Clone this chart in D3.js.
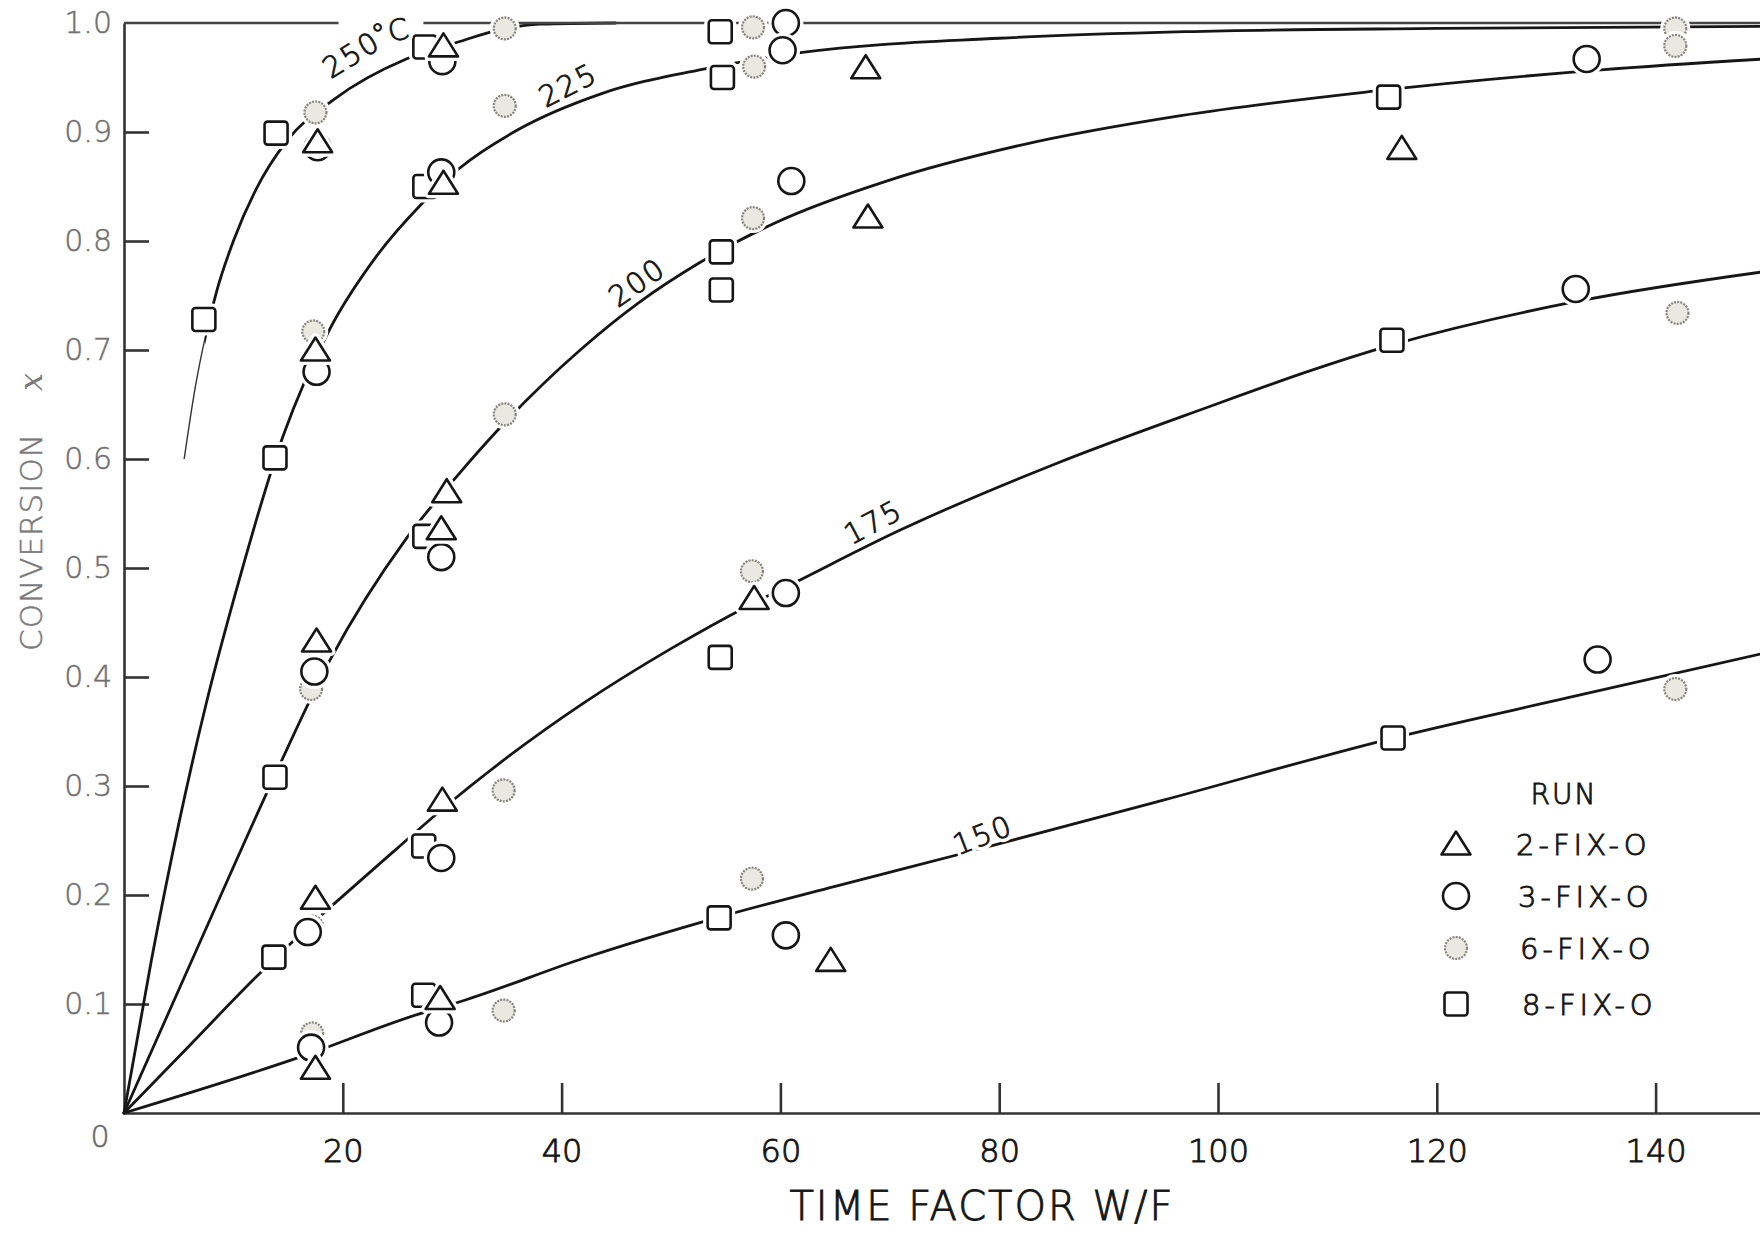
<!DOCTYPE html>
<html>
<head>
<meta charset="utf-8">
<script src="https://cdn.jsdelivr.net/npm/d3@7"></script>
<style>
  body { margin: 0; background: #fff; }
  svg { display: block; }
  .lbl { font-family: "DejaVu Sans", sans-serif; font-weight: 200; }
</style>
</head>
<body>
<script>
// values
const xTicks = [20, 40, 60, 80, 100, 120, 140];
const yTicks = [0.1, 0.2, 0.3, 0.4, 0.5, 0.6, 0.7, 0.8, 0.9, 1.0];
const runNames = ['2-FIX-O', '3-FIX-O', '6-FIX-O', '8-FIX-O'];
const curveNames = ['250', '225', '200', '175', '150'];

// 2-FIX-O triangles
const run2 = [[29.2,0.979],[17.7,0.891],[29.2,0.853],[17.5,0.70],[29.5,0.570],[29.0,0.536],
  [17.6,0.433],[57.6,0.472],[29.1,0.287],[17.5,0.197],[28.9,0.105],[17.5,0.041],
  [67.8,0.959],[116.8,0.885],[68.0,0.822],[64.6,0.140]];
// 3-FIX-O open circles
const run3 = [[29.1,0.965],[17.7,0.886],[60.5,1.0],[60.2,0.975],[29.0,0.863],[17.6,0.680],
  [61.0,0.855],[29.0,0.510],[17.4,0.405],[60.5,0.477],[29.0,0.234],[16.8,0.166],
  [28.8,0.083],[17.1,0.060],[133.7,0.967],[132.7,0.756],[134.7,0.416],[60.5,0.163]];
// 6-FIX-O grey circles
const run6 = [[34.8,0.995],[17.5,0.918],[34.8,0.924],[57.5,0.996],[57.6,0.960],[17.3,0.717],
  [34.8,0.641],[57.5,0.821],[17.1,0.389],[34.7,0.296],[57.4,0.497],[17.2,0.171],
  [57.4,0.215],[17.2,0.073],[34.7,0.094],[141.8,0.995],[141.8,0.979],[142.0,0.734],[141.8,0.389]];
// 8-FIX-O squares
const run8 = [[7.3,0.728],[13.9,0.899],[27.5,0.978],[27.5,0.850],[54.5,0.992],[54.7,0.950],
  [13.8,0.601],[54.6,0.790],[54.6,0.755],[27.5,0.529],[13.8,0.308],[54.5,0.418],
  [27.4,0.245],[13.7,0.143],[27.4,0.108],[54.4,0.179],[115.6,0.932],[115.9,0.709],[116.0,0.344]];

// fitted curves
const curve250 = [[5.5,0.60],[6.5,0.665],[7.5,0.715],[8.5,0.755],[10,0.80],[12,0.846],[14.9,0.892],
  [19.2,0.93],[25.8,0.967],[30.7,0.983],[34,0.993],[38,0.999],[45,1.0]];
const curve225 = [[0,0],[2.5,0.14],[5,0.265],[7.5,0.375],[10,0.47],[14.5,0.62],[18.8,0.719],[23,0.785],
  [27.2,0.834],[30.7,0.867],[36,0.902],[43.6,0.935],[53.1,0.958],[62,0.973],[80,0.986],[97,0.992],
  [120,0.995],[150,0.997]];
const curve200 = [[0,0],[7,0.158],[13.8,0.31],[18.8,0.415],[25.8,0.527],[30.5,0.585],[34.3,0.628],
  [41.7,0.70],[47,0.743],[52.6,0.78],[59.6,0.817],[69.7,0.855],[82,0.888],[96.6,0.915],[113.8,0.937],
  [135,0.957],[150,0.967]];
const curve175 = [[0,0],[6,0.062],[12,0.124],[17,0.172],[20,0.199],[25,0.243],[29,0.278],[35,0.326],
  [42,0.376],[50,0.426],[57,0.465],[61,0.485],[71,0.535],[85,0.595],[97,0.64],[116,0.705],
  [133,0.745],[150,0.772]];
const curve150 = [[0,0],[16,0.051],[27,0.091],[31,0.103],[42,0.142],[54.5,0.18],[65,0.208],[77,0.239],
  [95,0.287],[116,0.344],[132,0.381],[150,0.422]];

const W = 1760, H = 1236;
const svg = d3.select(document.body).append('svg').attr('width', W).attr('height', H);

const x = d3.scaleLinear().domain([0, 150]).range([124, 124 + 150 * 10.94]);
const y = d3.scaleLinear().domain([0, 1]).range([1113, 23]);

const ink = '#161616';

drawAxes();
drawCurves();
drawMarkers();
const gap = drawCurveLabels();
drawTopLine(gap);
drawLegend();

function inkText(sel, size, col){
  return sel.attr('class', 'lbl').attr('font-size', size).attr('fill', col)
    .attr('stroke', col).attr('stroke-width', 0.9);
}

function drawAxes(){
  const yAxis = d3.axisLeft(y).tickValues(yTicks).tickSizeInner(-25).tickSizeOuter(0)
    .tickPadding(12).tickFormat(d3.format('.1f'));
  const gy = svg.append('g').attr('transform', `translate(${x(0)},0)`).call(yAxis);
  gy.selectAll('path, line').attr('stroke', '#333').attr('stroke-width', 2.6);
  gy.select('.tick:last-of-type line').remove();
  inkText(gy.selectAll('text'), 30, '#707070').attr('stroke-width', 0.5);

  const xAxis = d3.axisBottom(x).tickValues(xTicks).tickSizeInner(-30).tickSizeOuter(0).tickPadding(26);
  const gx = svg.append('g').attr('transform', `translate(0,${y(0)})`).call(xAxis);
  gx.selectAll('path, line').attr('stroke', '#333').attr('stroke-width', 2.6);
  inkText(gx.selectAll('text'), 32, ink);

  inkText(svg.append('text'), 30, '#666').attr('stroke-width', 0.5)
    .attr('x', x(0) - 24).attr('y', y(0) + 34).attr('text-anchor', 'middle').text('0');

  inkText(svg.append('text'), 40, ink).attr('x', 982).attr('y', 1220)
    .attr('text-anchor', 'middle').attr('letter-spacing', 2).text('TIME FACTOR W/F');

  inkText(svg.append('text'), 31, '#7a7a7a').attr('stroke-width', 0.5)
    .attr('transform', 'translate(42,542) rotate(-90)')
    .attr('text-anchor', 'middle').attr('letter-spacing', 1).text('CONVERSION');
  svg.append('text').attr('transform', 'translate(42,382) rotate(-90)')
    .attr('text-anchor', 'middle').attr('font-family', '"DejaVu Serif", serif').attr('font-style', 'italic')
    .attr('font-size', 32).attr('fill', '#7a7a7a').text('x');
}

function drawTopLine(gap){
  // frame line at 1.0, broken where the 250 °C label sits
  const segs = [[x(0), gap[0]], [gap[1], x(150)]];
  segs.forEach(s => {
    svg.insert('line', 'g.marks').attr('x1', s[0]).attr('x2', s[1]).attr('y1', y(1)).attr('y2', y(1))
      .attr('stroke', '#444').attr('stroke-width', 2.6);
  });
}

function drawCurves(){
  const line = d3.line().x(d => x(d[0])).y(d => y(d[1])).curve(d3.curveMonotoneX);
  svg.append('clipPath').attr('id', 'after-first').append('rect')
    .attr('x', x(7.4)).attr('y', 0).attr('width', W).attr('height', H);
  // the 250 curve is drawn thin before its first point
  svg.append('path').attr('d', line(curve250)).attr('fill', 'none')
    .attr('stroke', '#333').attr('stroke-width', 1.4);
  svg.append('path').attr('d', line(curve250)).attr('fill', 'none').attr('clip-path', 'url(#after-first)')
    .attr('stroke', ink).attr('stroke-width', 2.8);
  [curve225, curve200, curve175, curve150].forEach(c => {
    svg.append('path').attr('d', line(c)).attr('fill', 'none')
      .attr('stroke', ink).attr('stroke-width', 2.8).attr('stroke-linecap', 'round');
  });
}

function shape(g, kind, halo){
  const sw = halo ? 9 : 2.6;
  const col = halo ? '#fff' : ink;
  if (kind === 'tri') {
    g.append('path').attr('d', 'M0,-12.5 L14.5,10.5 L-14.5,10.5 Z')
      .attr('fill', '#fff').attr('stroke', col).attr('stroke-width', sw).attr('stroke-linejoin', 'round');
  } else if (kind === 'circ') {
    g.append('circle').attr('r', 13).attr('fill', '#fff').attr('stroke', col).attr('stroke-width', sw);
  } else if (kind === 'grey') {
    g.append('circle').attr('r', 11).attr('fill', halo ? '#fff' : '#e9e9e2')
      .attr('stroke', halo ? '#fff' : '#85857c').attr('stroke-width', halo ? 8 : 2.2)
      .attr('stroke-dasharray', halo ? null : '2 1.2');
  } else {
    g.append('rect').attr('x', -11.5).attr('y', -11.5).attr('width', 23).attr('height', 23).attr('rx', 3)
      .attr('fill', '#fff').attr('stroke', col).attr('stroke-width', sw);
  }
}

function drawMarkers(){
  const sets = [[run8, 'sq'], [run6, 'grey'], [run3, 'circ'], [run2, 'tri']];
  sets.forEach(([data, kind]) => {
    svg.append('g').attr('class', 'marks').selectAll('g').data(data).join('g')
      .attr('transform', d => `translate(${x(d[0])},${y(d[1])})`)
      .each(function(){
        const g = d3.select(this);
        shape(g, kind, true);
        shape(g, kind, false);
      });
  });
}

function drawCurveLabels(){
  // label anchors in data units, with their tilt
  const place = [
    {t: curveNames[0], at: [20.8, 0.971], rot: -32},
    {t: '°C', at: [24.4, 0.992], rot: -12},
    {t: curveNames[1], at: [40.6, 0.943], rot: -27},
    {t: curveNames[2], at: [46.9, 0.762], rot: -35},
    {t: curveNames[3], at: [68.5, 0.542], rot: -28},
    {t: curveNames[4], at: [78.5, 0.255], rot: -21}
  ];
  const nodes = [];
  place.forEach(p => {
    const tr = `translate(${x(p.at[0])},${y(p.at[1])}) rotate(${p.rot})`;
    svg.append('text').attr('class', 'lbl').attr('transform', tr)
      .attr('text-anchor', 'middle').attr('dominant-baseline', 'central')
      .attr('font-size', 29).attr('letter-spacing', 2).attr('fill', '#fff')
      .attr('stroke', '#fff').attr('stroke-width', 8).text(p.t);
    const t = inkText(svg.append('text'), 29, ink).attr('transform', tr)
      .attr('text-anchor', 'middle').attr('dominant-baseline', 'central')
      .attr('letter-spacing', 2).text(p.t);
    nodes.push(t.node());
  });
  const r0 = nodes[0].getBoundingClientRect(), r1 = nodes[1].getBoundingClientRect();
  return [r0.left + 22, r1.right + 10];
}

function drawLegend(){
  inkText(svg.append('text'), 28, ink).attr('x', 1564).attr('y', 804)
    .attr('text-anchor', 'middle').attr('letter-spacing', 2).text('RUN');
  const kinds = ['tri', 'circ', 'grey', 'sq'];
  const rowY = [844, 896, 948, 1004];
  runNames.forEach((name, i) => {
    const g = svg.append('g').attr('transform', `translate(1456,${rowY[i]})`);
    shape(g, kinds[i], false);
    inkText(svg.append('text'), 29, ink).attr('x', 1516 + i * 2).attr('y', rowY[i] + 11)
      .attr('letter-spacing', 4).text(name);
  });
}
</script>
</body>
</html>
